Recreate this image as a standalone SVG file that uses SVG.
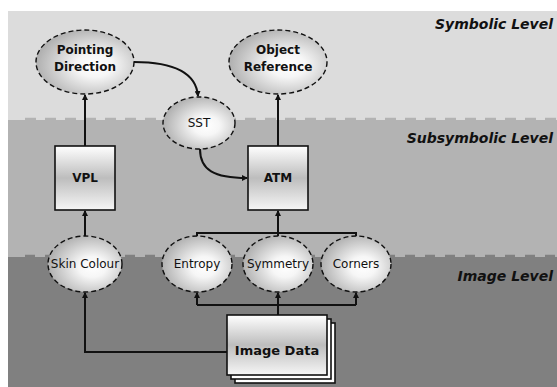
<svg xmlns="http://www.w3.org/2000/svg" width="557" height="387" viewBox="0 0 557 387">
  <style>
    .lvl { font-family: "DejaVu Sans", sans-serif; font-size: 14px; font-weight: bold; font-style: italic; fill: #111; text-anchor: end; }
    .bold { font-family: "DejaVu Sans", sans-serif; font-size: 12px; font-weight: bold; fill: #111; text-anchor: middle; }
    .reg { font-family: "DejaVu Sans", sans-serif; font-size: 12px; fill: #111; text-anchor: middle; }
    .oval { fill: url(#ovalFill); stroke: #111; stroke-width: 1.4; stroke-dasharray: 5 3; }
    .box { fill: url(#boxFill); stroke: #111; stroke-width: 1.6; }
    .page { fill: #fff; stroke: #111; stroke-width: 1.6; }
    .wire { fill: none; stroke: #111; stroke-width: 2; }
    .arrow { fill: none; stroke: #111; stroke-width: 2; marker-end: url(#head); }
  </style>
  <defs>
    <radialGradient id="ovalFill" cx="0.6" cy="0.55" r="0.62">
      <stop offset="0" stop-color="#ffffff"/>
      <stop offset="0.3" stop-color="#f6f6f6"/>
      <stop offset="1" stop-color="#acacac"/>
    </radialGradient>
    <linearGradient id="boxFill" x1="0" y1="0" x2="0" y2="1">
      <stop offset="0" stop-color="#ffffff"/>
      <stop offset="0.5" stop-color="#bdbdbd"/>
      <stop offset="1" stop-color="#f6f6f6"/>
    </linearGradient>
    <marker id="head" markerWidth="6" markerHeight="6" refX="5" refY="3" orient="auto" markerUnits="userSpaceOnUse">
      <path d="M0,0 L6,3 L0,6 Z" fill="#111"/>
    </marker>
  </defs>

  <!-- level bands -->
  <rect x="0" y="0" width="557" height="387" fill="#ffffff"/>
  <rect x="8" y="11" width="549" height="109" fill="#dcdcdc"/>
  <rect x="8" y="120" width="549" height="137" fill="#b3b3b3"/>
  <line x1="25" y1="119" x2="557" y2="119" stroke="#b3b3b3" stroke-width="2.5" stroke-dasharray="11 9"/>
  <rect x="8" y="257" width="549" height="130" fill="#808080"/>
  <line x1="25" y1="256" x2="557" y2="256" stroke="#808080" stroke-width="2.5" stroke-dasharray="10 10"/>

  <text class="lvl" x="553" y="29">Symbolic Level</text>
  <text class="lvl" x="553" y="143">Subsymbolic Level</text>
  <text class="lvl" x="553" y="281">Image Level</text>

  <!-- connectors -->
  <g id="connectors">
    <line class="arrow" x1="85" y1="146" x2="85" y2="95"/>
    <line class="arrow" x1="278" y1="146" x2="278" y2="95"/>
    <path class="arrow" d="M134,62 C172,62 196,72 198,96"/>
    <path class="arrow" d="M200,149 C200,170 214,178 247,178"/>
    <line class="arrow" x1="85" y1="236" x2="85" y2="211"/>
    <path class="wire" d="M197,238 V233 H356 V238"/>
    <line class="arrow" x1="278" y1="236" x2="278" y2="211"/>
    <path class="wire" d="M197,305 H356 M278,315 V305"/>
    <line class="arrow" x1="197" y1="305" x2="197" y2="293"/>
    <line class="arrow" x1="278" y1="305" x2="278" y2="293"/>
    <line class="arrow" x1="356" y1="305" x2="356" y2="293"/>
    <path class="arrow" d="M227,352 H85 V293"/>
  </g>

  <g id="pointing-direction">
    <ellipse class="oval" cx="85" cy="62" rx="49" ry="32"/>
    <text class="bold" x="85" y="54">Pointing</text>
    <text class="bold" x="85" y="71">Direction</text>
  </g>
  <g id="object-reference">
    <ellipse class="oval" cx="278" cy="62" rx="49" ry="32"/>
    <text class="bold" x="278" y="54">Object</text>
    <text class="bold" x="278" y="71">Reference</text>
  </g>
  <g id="sst">
    <ellipse class="oval" cx="199" cy="123" rx="36" ry="26"/>
    <text class="reg" x="199" y="127">SST</text>
  </g>
  <g id="vpl">
    <rect class="box" x="55" y="146" width="60" height="64"/>
    <text class="bold" x="85" y="182">VPL</text>
  </g>
  <g id="atm">
    <rect class="box" x="248" y="146" width="60" height="64"/>
    <text class="bold" x="278" y="182">ATM</text>
  </g>
  <g id="skin-colour">
    <ellipse class="oval" cx="85" cy="264" rx="37" ry="28"/>
    <text class="reg" x="85" y="268">Skin Colour</text>
  </g>
  <g id="entropy">
    <ellipse class="oval" cx="197" cy="264" rx="35" ry="28"/>
    <text class="reg" x="197" y="268">Entropy</text>
  </g>
  <g id="symmetry">
    <ellipse class="oval" cx="278" cy="264" rx="35" ry="28"/>
    <text class="reg" x="278" y="268">Symmetry</text>
  </g>
  <g id="corners">
    <ellipse class="oval" cx="356" cy="264" rx="35" ry="28"/>
    <text class="reg" x="356" y="268">Corners</text>
  </g>
  <g id="image-data">
    <rect class="page" x="235" y="323" width="100" height="60"/>
    <rect class="page" x="231" y="319" width="100" height="60"/>
    <rect class="box" x="227" y="315" width="100" height="60"/>
    <text class="bold" x="277" y="355" style="font-size:13px">Image Data</text>
  </g>
</svg>
